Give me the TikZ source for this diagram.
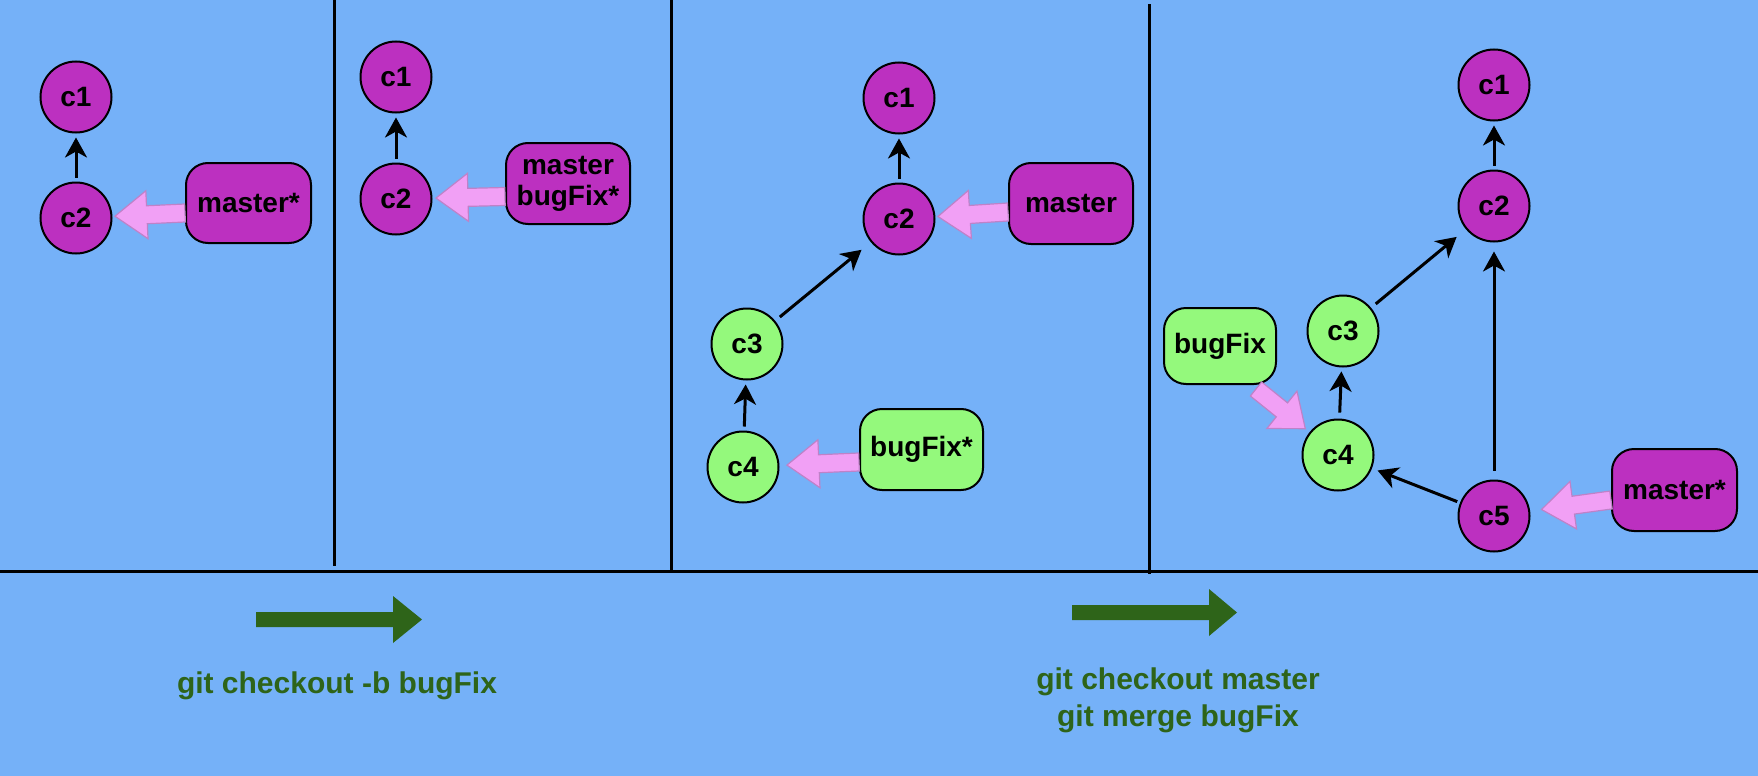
\documentclass[tikz,border=0pt]{standalone}
\usepackage{fontspec}
\setmainfont{Liberation Sans}
\usetikzlibrary{calc,arrows.meta}
\definecolor{bgblue}{RGB}{117,177,248}
\definecolor{cpurple}{RGB}{188,48,192}
\definecolor{cgreen}{RGB}{148,249,124}
\definecolor{pinkfill}{RGB}{241,160,245}
\definecolor{pinkline}{RGB}{190,130,200}
\definecolor{dkgreen}{RGB}{46,100,25}
\newcommand\blockarrow[6]{%
  \coordinate (ba-h) at ($(#3)!#6!(#2)$);
  \path[#1] ($(#2)!#4!90:(#3)$) -- ($(ba-h)!#4!90:(#3)$) -- ($(ba-h)!#5!90:(#3)$)
    -- (#3) -- ($(ba-h)!#5!-90:(#3)$) -- ($(ba-h)!#4!-90:(#3)$) -- ($(#2)!#4!-90:(#3)$) -- cycle;}
\tikzset{
  commit/.style={circle, draw=black, line width=1pt, minimum size=35.5pt, inner sep=0pt,
    font=\bfseries\fontsize{14}{16}\selectfont},
  pc/.style={commit, fill=cpurple},
  gc/.style={commit, fill=cgreen},
  branch/.style={rectangle, rounded corners=11pt, draw=black, line width=1pt, inner sep=0pt,
    align=center, font=\bfseries\fontsize{14}{15.5}\selectfont},
  pb/.style={branch, fill=cpurple},
  gb/.style={branch, fill=cgreen},
  hist/.style={-{Stealth[length=10pt,width=11pt,inset=3pt]}, line width=1.5pt},
  pinkarrow/.style={fill=pinkfill, draw=pinkline, line width=0.6pt},
  greenarrow/.style={fill=dkgreen},
  divider/.style={line width=1.5pt, draw=black},
  cmd/.style={text=dkgreen, align=center, font=\bfseries\fontsize{15}{18.5}\selectfont},
}
\begin{document}
\begin{tikzpicture}[x=0.5pt,y=-0.5pt]
\fill[bgblue] (0,0) rectangle (1758,776);
\useasboundingbox (0,0) rectangle (1758,776);
% dividers
\draw[divider] (0,571) -- (1758,571);
\draw[divider] (334,0) -- (334,566);
\draw[divider] (671,0) -- (671,571);
\draw[divider] (1149,4) -- (1149,574);
% panel 1
\node[pc] (a1) at (76,97) {c1};
\node[pc] (a2) at (76,218) {c2};
\node[pb, minimum width=62.5pt, minimum height=40pt] (am) at (248.5,203) {master*};
\draw[hist, shorten <=2pt, shorten >=2pt] (a2) -- (a1);
\coordinate (at) at ($(am.west)+(0,10)$);
\coordinate (ap) at ($(a2)!19.5pt!(at)$);
\blockarrow{pinkarrow}{at}{ap}{4.5pt}{12pt}{16pt}
% panel 2
\node[pc] (b1) at (396,77) {c1};
\node[pc] (b2) at (396,199) {c2};
\node[pb, minimum width=62pt, minimum height=40.5pt] (bm) at (568,183.5) {master\\bugFix*};
\draw[hist, shorten <=2pt, shorten >=2pt] (b2) -- (b1);
\coordinate (bt) at ($(bm.west)+(0,13)$);
\coordinate (bp) at ($(b2)!20pt!(bt)$);
\blockarrow{pinkarrow}{bt}{bp}{4.5pt}{12pt}{16pt}
% panel 3
\node[pc] (d1) at (899,98) {c1};
\node[pc] (d2) at (899,219) {c2};
\node[gc] (d3) at (747,344) {c3};
\node[gc] (d4) at (743,467) {c4};
\node[pb, minimum width=62pt, minimum height=40.5pt] (dm) at (1071,203.5) {master};
\node[gb, minimum width=61.5pt, minimum height=40.5pt] (db) at (921.5,449.5) {bugFix*};
\draw[hist, shorten <=2pt, shorten >=2pt] (d2) -- (d1);
\draw[hist, shorten <=3pt, shorten >=6pt] (d3) -- (d2);
\draw[hist, shorten <=2pt, shorten >=2pt] (d4) -- (d3);
\coordinate (dmt) at ($(dm.west)+(0,8.5)$);
\coordinate (dmp) at ($(d2)!19.5pt!(dmt)$);
\blockarrow{pinkarrow}{dmt}{dmp}{4.5pt}{12pt}{16pt}
\coordinate (dbt) at ($(db.west)+(0,12.5)$);
\coordinate (dbp) at ($(d4)!22pt!(dbt)$);
\blockarrow{pinkarrow}{dbt}{dbp}{4.5pt}{12pt}{16pt}
% panel 4
\node[pc] (e1) at (1494,85) {c1};
\node[pc] (e2) at (1494,206) {c2};
\node[gc] (e3) at (1343,331) {c3};
\node[gc] (e4) at (1338,455) {c4};
\node[pc] (e5) at (1494,516) {c5};
\node[gb, minimum width=56pt, minimum height=38pt] (eb) at (1220,346) {bugFix};
\node[pb, minimum width=62.5pt, minimum height=41pt] (em) at (1674.5,490) {master*};
\draw[hist, shorten <=2pt, shorten >=2pt] (e2) -- (e1);
\draw[hist, shorten <=3pt, shorten >=6pt] (e3) -- (e2);
\draw[hist, shorten <=3pt, shorten >=2pt] (e4) -- (e3);
\draw[hist, shorten <=1.5pt, shorten >=3pt] (e5) -- (e4);
\draw[hist, shorten <=4.5pt, shorten >=4.5pt] (e5) -- (e2);
\coordinate (ebt) at ($(eb.south east)+(-21,4)$);
\coordinate (ebp) at ($(e4)!21pt!(ebt)$);
\blockarrow{pinkarrow}{ebt}{ebp}{4.5pt}{12pt}{15pt}
\coordinate (emt) at ($(em.west)+(0,10)$);
\coordinate (emp) at ($(e5)!24pt!(emt)$);
\blockarrow{pinkarrow}{emt}{emp}{4.5pt}{12pt}{16pt}
% commands
\coordinate (g1t) at (256,619.5);
\coordinate (g1p) at (422,619.5);
\blockarrow{greenarrow}{g1t}{g1p}{3.75pt}{11.75pt}{14.5pt}
\coordinate (g2t) at (1072,612.5);
\coordinate (g2p) at (1237,612.5);
\blockarrow{greenarrow}{g2t}{g2p}{3.75pt}{11.75pt}{14pt}
\node[cmd] (cmd1) at (337,686) {git checkout -b bugFix};
\node[cmd] (cmd2) at (1178,700) {git checkout master\\git merge bugFix};
\end{tikzpicture}
\end{document}
